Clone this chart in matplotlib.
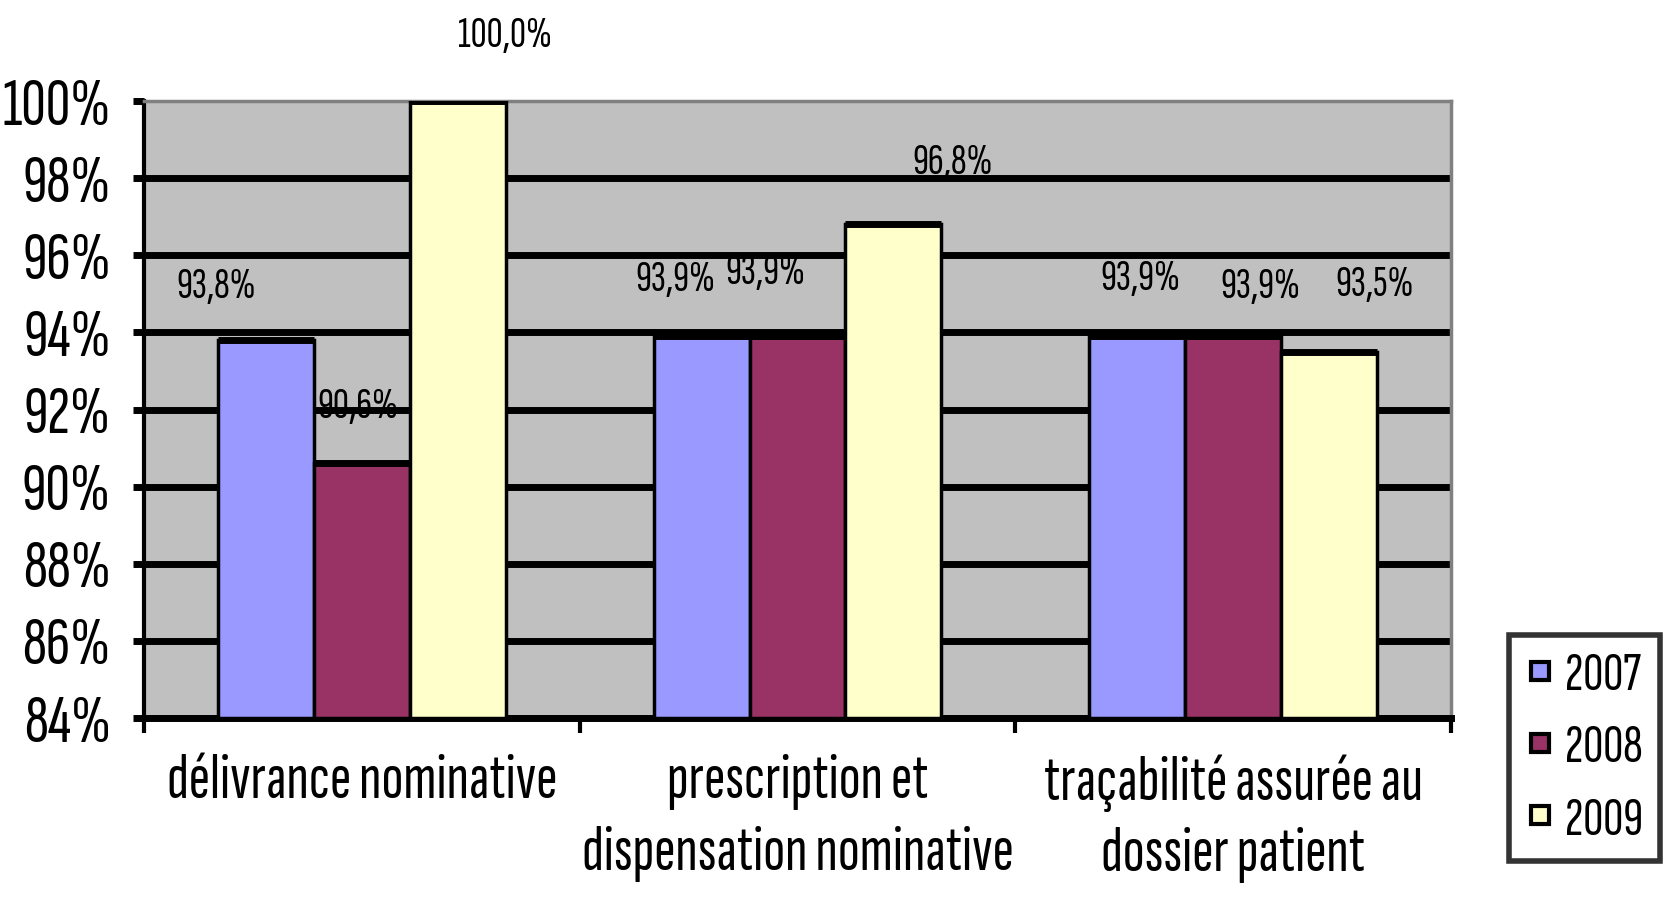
import matplotlib.pyplot as plt
from matplotlib import font_manager as fm
from matplotlib.font_manager import FontProperties
from matplotlib.textpath import TextPath
from matplotlib.lines import Line2D
import numpy as np

DPI = 100


def width(text, prop):
    return TextPath((0, 0), text, prop=prop).get_extents().width


def narrowness(fname):
    p = FontProperties(fname=fname, size=100)
    if width("iiiii", p) > 0.6 * width("MMMMM", p):
        return None  # monospaced, skip
    h = TextPath((0, 0), "H", prop=p).get_extents().height
    return width("100% nominative", p) / h


# the reference uses a very narrow sans (Arial Narrow like): take the narrowest one installed
files = []
for f in fm.fontManager.ttflist:
    low = (f.fname + " " + f.name).lower()
    if not ("condensed" in low or "narrow" in low) or "sans" not in low and "roboto" not in low:
        continue
    if any(s in low for s in ("mono", "serif", "bold", "italic", "oblique", "light", "thin",
                              "black", "medium", "semibold", "code", "display")):
        continue
    files.append(f.fname)
files = sorted(set(files))[:25]
cands = []
for fn in files:
    try:
        r = narrowness(fn)
        if r is not None:
            cands.append((r, fn))
    except Exception:
        pass
cands.sort()
font = FontProperties(fname=cands[0][1]) if cands else FontProperties(family="Liberation Sans")


def fitted(sample, width_px, cap_px):
    # font size (pt) so that sample is at most width_px wide and caps at most cap_px high
    p = font.copy()
    p.set_size(100)
    w = width(sample, p) * DPI / 72
    h = TextPath((0, 0), "H", prop=p).get_extents().height * DPI / 72
    size = min(100 * width_px / w, 100 * cap_px / h)
    q = font.copy()
    q.set_size(size)
    return q


categories = ["délivrance nominative",
              "prescription et\ndispensation nominative",
              "traçabilité assurée au\ndossier patient"]
years = ["2007", "2008", "2009"]
v2007 = [93.8, 93.9, 93.9]
v2008 = [90.6, 93.9, 93.9]
v2009 = [100.0, 96.8, 93.5]
labels2007 = ["93,8%", "93,9%", "93,9%"]
labels2008 = ["90,6%", "93,9%", "93,9%"]
labels2009 = ["100,0%", "96,8%", "93,5%"]
yticks = [84, 86, 88, 90, 92, 94, 96, 98, 100]

colors = ["#9999FF", "#993366", "#FFFFCC"]
# where the value labels sit, relative to bar centre / bar top (data units), [series][category]
label_dx = [[-0.114, -0.06, 0.006], [-0.008, -0.073, 0.062], [0.108, 0.135, 0.105]]
label_dy = [[1.39, 1.48, 1.51], [1.48, 1.65, 1.29], [1.70, 1.61, 1.74]]

tick_font = fitted("100%", 104, 50)
cat_font = fitted("délivrance nominative", 385, 46)
val_font = fitted("93,8%", 76, 32)
leg_font = fitted("2007", 74, 46)

fig = plt.figure(figsize=(16.63, 9.01), dpi=DPI)
ax = fig.add_axes([0.0866, 0.2031, 0.7859, 0.6848])
ax.set_facecolor("#C0C0C0")

x = np.arange(len(categories))
w = 0.22
series = [v2007, v2008, v2009]
texts = [labels2007, labels2008, labels2009]

for i, vals in enumerate(series):
    xs = x + (i - 1) * w
    ax.bar(xs, np.array(vals) - 84, bottom=84, width=w, color=colors[i],
           edgecolor="black", linewidth=2.5, zorder=3, label=years[i])
    ax.hlines(vals, xs - w / 2, xs + w / 2, color="black", linewidth=5, zorder=4)
    for j, v in enumerate(vals):
        ax.text(xs[j] + label_dx[i][j], v + label_dy[i][j], texts[i][j],
                ha="center", va="center", fontproperties=val_font, zorder=5, clip_on=False)

ax.set_xlim(-0.5, 2.5)
ax.set_ylim(84, 100)
ax.set_yticks(yticks)
ax.set_yticklabels([f"{t}%" for t in yticks], fontproperties=tick_font)
ax.yaxis.grid(True, color="black", linewidth=5, zorder=0)
ax.get_ygridlines()[-1].set_visible(False)  # top edge is the grey plot-area border
ax.set_axisbelow(True)
ax.tick_params(axis="y", length=8, width=5, direction="out", pad=16)

ax.set_xticks([-0.5, 0.5, 1.5, 2.5])
ax.set_xticklabels([])
ax.tick_params(axis="x", length=11, width=3, direction="out")
ax.set_xticks(x, minor=True)
ax.set_xticklabels(categories, minor=True, fontproperties=cat_font, linespacing=1.35)
ax.tick_params(axis="x", which="minor", length=0, pad=26)

for side in ["top", "right"]:
    ax.spines[side].set_color("#808080")
    ax.spines[side].set_linewidth(2.5)
ax.spines["left"].set_linewidth(3)
ax.spines["bottom"].set_linewidth(5)

handles = [Line2D([], [], marker="s", linestyle="none", markersize=13,
                  markerfacecolor=c, markeredgecolor="black", markeredgewidth=3)
           for c in colors]
leg = fig.legend(handles, years, loc="lower right", bbox_to_anchor=(0.998, 0.044),
                 prop=leg_font, frameon=True, fancybox=False, handlelength=0.5,
                 handletextpad=0.2, labelspacing=0.42, borderpad=0.3, borderaxespad=0)
leg.get_frame().set_edgecolor("black")
leg.get_frame().set_linewidth(4)

fig.savefig("out.png", dpi=DPI)
